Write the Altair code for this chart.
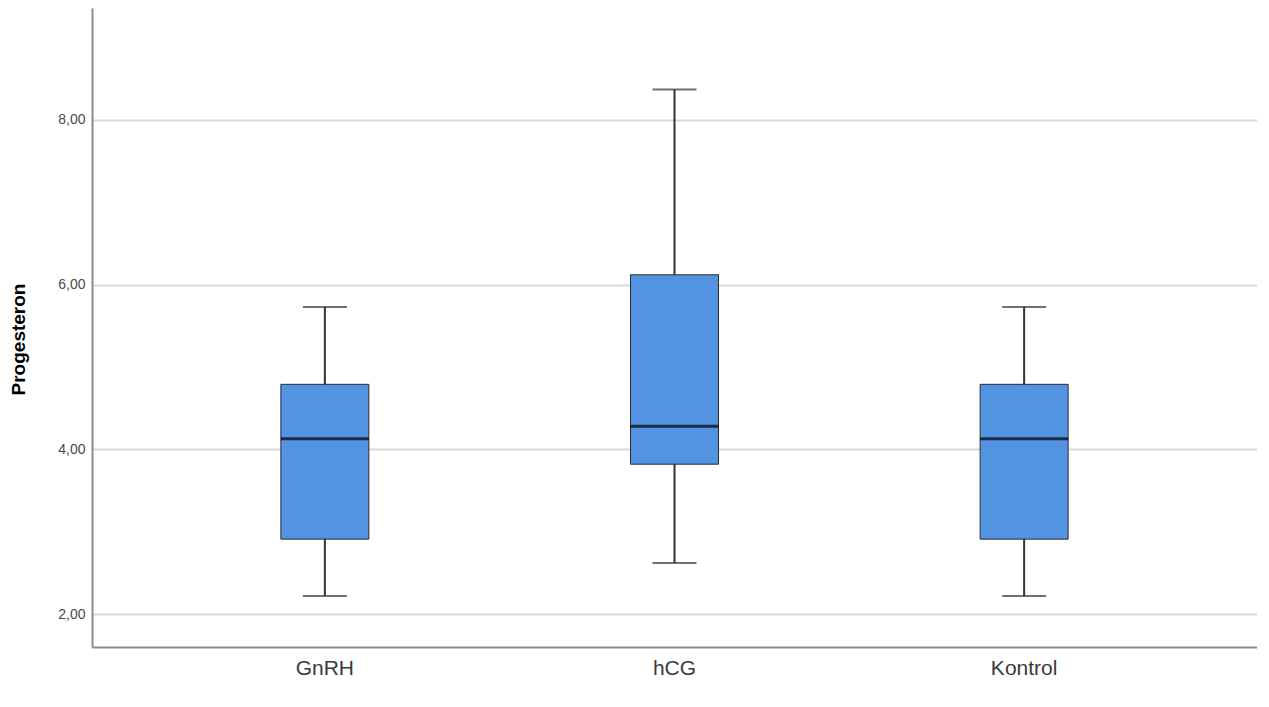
import altair as alt
import pandas as pd

groups = ["GnRH", "hCG", "Kontrol"]
mins = [2.22, 2.62, 2.22]
q1s = [2.91, 3.82, 2.91]
medians = [4.13, 4.28, 4.13]
q3s = [4.79, 6.12, 4.79]
maxs = [5.73, 8.37, 5.73]
y_ticks = [2, 4, 6, 8]

df = pd.DataFrame({
    "group": groups, "min": mins, "q1": q1s,
    "median": medians, "q3": q3s, "max": maxs,
})

FONT = "Liberation Sans"

x = alt.X(
    "group:N",
    sort=groups,
    scale=alt.Scale(type="band", paddingInner=0, paddingOuter=0.166),
    axis=alt.Axis(
        title=None, labelAngle=0, ticks=False, labelFontSize=21,
        labelColor="#3a3a3a", labelFont=FONT, labelPadding=10,
        domainColor="#8c8c8c", domainWidth=2, grid=False,
    ),
)
yscale = alt.Scale(domain=[1.6, 9.36], nice=False, zero=False)
yaxis = alt.Axis(
    title="Progesteron", titleFont=FONT, titleFontSize=19, titleFontWeight="bold",
    titleColor="#000000", titleX=-68, titleY=331, titleBaseline="alphabetic",
    titleAngle=270, titleAlign="center",
    values=y_ticks, format=".2f", labelExpr="replace(datum.label, '.', ',')",
    labelFont=FONT, labelFontSize=14, labelColor="#4a4a4a", labelPadding=7,
    ticks=False, domainColor="#8c8c8c", domainWidth=2,
    grid=True, gridColor="#d9d9d9", gridWidth=2,
)

base = alt.Chart(df)

whisker = base.mark_rule(color="#333333", strokeWidth=2).encode(
    x=x, y=alt.Y("min:Q", scale=yscale, axis=yaxis), y2="max:Q"
)
cap_lo = base.mark_tick(color="#333333", thickness=2, size=44).encode(
    x=x, y=alt.Y("min:Q", scale=yscale)
)
cap_hi = base.mark_tick(color="#333333", thickness=2, size=44).encode(
    x=x, y=alt.Y("max:Q", scale=yscale)
)
box = base.mark_bar(size=88, fill="#5294e2", stroke="#2b2b2b", strokeWidth=1).encode(
    x=x, y=alt.Y("q1:Q", scale=yscale), y2="q3:Q"
)
med = base.mark_tick(color="#000000", thickness=3, size=88).encode(
    x=x, y=alt.Y("median:Q", scale=yscale)
)

chart = alt.layer(whisker, cap_lo, cap_hi, box, med).properties(
    width=1165, height=639,
    autosize=alt.AutoSizeParams(type="none"),
    padding={"left": 84, "top": 0, "right": 0, "bottom": 50},
    background="white",
).configure_view(stroke=None)

chart.save("out.html", embed_options={"renderer": "svg", "actions": False})
